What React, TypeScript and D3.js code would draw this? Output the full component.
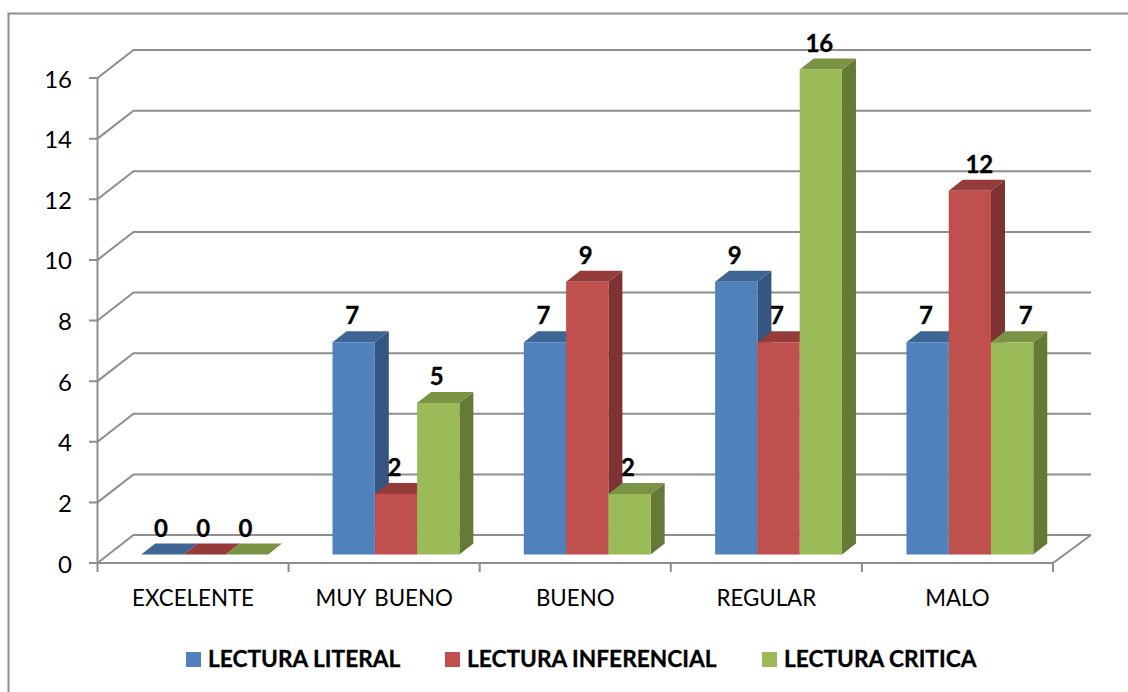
import { useRef, useEffect } from "react";
import * as d3 from "d3";

const categories = ["EXCELENTE", "MUY BUENO", "BUENO", "REGULAR", "MALO"];
const seriesNames = ["LECTURA LITERAL", "LECTURA INFERENCIAL", "LECTURA CRITICA"];
const literal = [0, 7, 7, 9, 7];
const inferencial = [0, 2, 9, 7, 12];
const critica = [0, 5, 2, 16, 7];
const yTicks = [0, 2, 4, 6, 8, 10, 12, 14, 16];

const frontColors = ["#4f81bd", "#c0504d", "#9bbb59"];
const topColors = ["#3e6593", "#953c3a", "#7a9345"];
const sideColors = ["#34557f", "#7e3231", "#667a38"];

const W = 1128;
const H = 692;
const GRID = "#8e8e8e";
const FONT = "Lato, Carlito, Calibri, sans-serif";

const App = () => {
  const ref = useRef<SVGSVGElement | null>(null);

  useEffect(() => {
    const svg = d3.select(ref.current);
    svg.selectAll("*").remove();

    const allSeries = [literal, inferencial, critica];

    // front plane of the 3D box
    const xAxis = d3.scaleBand<string>().domain(categories).range([97.5, 1053]);
    // bars
    const x0 = d3.scaleBand<string>().domain(categories).range([98, 1054.5]).paddingInner(0.337).paddingOuter(0.1685);
    const x1 = d3.scaleBand<string>().domain(seriesNames).range([0, x0.bandwidth()]);
    const y = d3.scaleLinear().domain([0, 16]).range([563, 78]);

    const wallDx = 36;
    const wallDy = 28;
    // bars stand a little inside the floor
    const insetX = 11;
    const insetY = 8.5;
    const barDx = 14;
    const barDy = 11;

    // chart frame, cut off by the page on the right and bottom
    svg
      .append("path")
      .attr("d", `M8.5,${H} V13.5 H${W}`)
      .attr("fill", "none")
      .attr("stroke", GRID)
      .attr("stroke-width", 2);

    const line = d3.line();

    const grid = svg.append("g").attr("fill", "none").attr("stroke", GRID).attr("stroke-width", 2);
    yTicks.forEach((t) => {
      grid
        .append("path")
        .attr("d", line([
          [89, y(t)],
          [97.5, y(t)],
          [97.5 + wallDx, y(t) - wallDy],
          [1091, y(t) - wallDy],
        ]));
    });
    grid.append("path").attr("d", line([[97.5, y(0)], [97.5, y(16)]]));
    grid.append("path").attr("d", line([[97.5, y(0)], [1053, y(0)], [1091, y(0) - wallDy]]));
    d3.range(categories.length + 1).forEach((i) => {
      const tx = 97.5 + i * xAxis.step();
      grid.append("path").attr("d", line([[tx, y(0)], [tx, y(0) + 9]]));
    });

    // y tick labels
    svg
      .append("g")
      .selectAll("text")
      .data(yTicks)
      .enter()
      .append("text")
      .attr("x", 72)
      .attr("y", (d) => y(d) + 9.5)
      .attr("text-anchor", "end")
      .attr("font-family", FONT)
      .attr("font-size", 24)
      .attr("fill", "#000")
      .text((d) => d);

    // category labels
    svg
      .append("g")
      .selectAll("text")
      .data(categories)
      .enter()
      .append("text")
      .attr("x", (d) => (xAxis(d) as number) + xAxis.bandwidth() / 2)
      .attr("y", 605.5)
      .attr("text-anchor", "middle")
      .attr("font-family", FONT)
      .attr("font-size", 22.3)
      .attr("word-spacing", 3)
      .attr("fill", "#000")
      .text((d) => d);

    // bars
    const bars = svg.append("g");
    categories.forEach((cat, c) => {
      seriesNames.forEach((name, s) => {
        const v = allSeries[s][c];
        const left = (x0(cat) as number) + (x1(name) as number) + insetX;
        const right = left + x1.bandwidth();
        const bottom = y(0) - insetY;
        const top = y(v) - insetY;
        const poly = (pts: [number, number][], fill: string) =>
          bars.append("path").attr("d", line(pts) + "Z").attr("fill", fill);

        poly(
          [
            [right, top],
            [right + barDx, top - barDy],
            [right + barDx, bottom - barDy],
            [right, bottom],
          ],
          sideColors[s]
        );
        poly(
          [
            [left, top],
            [left + barDx, top - barDy],
            [right + barDx, top - barDy],
            [right, top],
          ],
          topColors[s]
        );
        poly(
          [
            [left, top],
            [right, top],
            [right, bottom],
            [left, bottom],
          ],
          frontColors[s]
        );
      });
    });

    // value labels on top of everything
    const labels = svg.append("g");
    // the two right hand MALO labels were dragged off their bars in the original
    const labelNudge: Record<string, number> = { "4-1": 11, "4-2": 15 };
    categories.forEach((cat, c) => {
      seriesNames.forEach((name, s) => {
        const v = allSeries[s][c];
        labels
          .append("text")
          .attr(
            "x",
            (x0(cat) as number) + (x1(name) as number) + insetX + x1.bandwidth() / 2 - 1.5 + (labelNudge[`${c}-${s}`] ?? 0)
          )
          .attr("y", y(v) - insetY - barDy - 7)
          .attr("text-anchor", "middle")
          .attr("font-family", FONT)
          .attr("font-size", 24)
          .attr("font-weight", "bold")
          .attr("stroke", "#000")
          .attr("stroke-width", 0.3)
          .attr("fill", "#000")
          .text(v);
      });
    });

    // legend
    const legendSquareX = [186, 445, 762];
    const legend = svg.append("g");
    seriesNames.forEach((name, s) => {
      legend
        .append("rect")
        .attr("x", legendSquareX[s])
        .attr("y", 652)
        .attr("width", 15)
        .attr("height", 15)
        .attr("fill", frontColors[s]);
      legend
        .append("text")
        .attr("x", legendSquareX[s] + 22)
        .attr("y", 667)
        .attr("font-family", FONT)
        .attr("font-size", 22.7)
        .attr("font-weight", "bold")
        .attr("stroke", "#000")
        .attr("stroke-width", 0.3)
        .attr("fill", "#000")
        .text(name);
    });
  }, []);

  return (
    <svg
      ref={ref}
      width={W}
      height={H}
      style={{ position: "absolute", left: 0, top: 0, background: "#fff" }}
    />
  );
};

export default App;
